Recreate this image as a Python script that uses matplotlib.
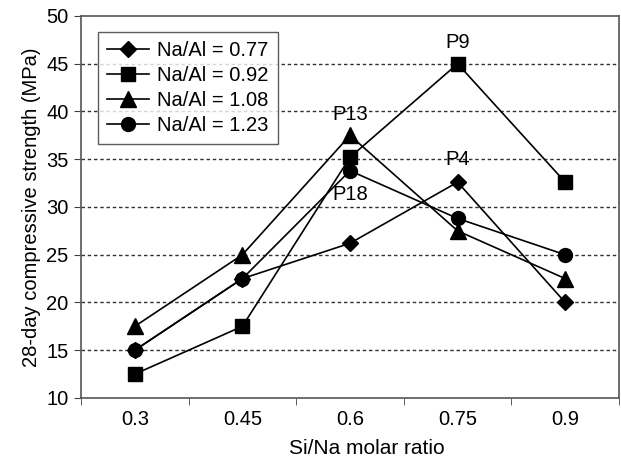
import matplotlib
matplotlib.use("Agg")
import matplotlib.pyplot as plt
import numpy as np

plt.rcParams['font.family'] = ['Liberation Sans', 'DejaVu Sans']

categories = ["0.3", "0.45", "0.6", "0.75", "0.9"]
na077 = [15.0, 22.5, 26.2, 32.6, 20.0]
na092 = [12.5, 17.5, 35.2, 45.0, 32.6]
na108 = [17.5, 25.0, 37.5, 27.5, 22.5]
na123 = [15.0, 22.5, 33.8, 28.8, 25.0]
labels = ["Na/Al = 0.77", "Na/Al = 0.92", "Na/Al = 1.08", "Na/Al = 1.23"]

fig = plt.figure(figsize=(6.21, 4.61), dpi=100)
ax = fig.add_axes([0.1304, 0.1367, 0.8664, 0.8286])
x = np.arange(len(categories))

ax.plot(x, na077, '-D', color='black', lw=1.2, ms=8, label=labels[0])
ax.plot(x, na092, '-s', color='black', lw=1.2, ms=10, label=labels[1])
ax.plot(x, na108, '-^', color='black', lw=1.2, ms=11.5, label=labels[2])
ax.plot(x, na123, '-o', color='black', lw=1.2, ms=10, label=labels[3])

afs = 14.5
ax.text(x[3], na092[3] + 1.2, "P9", ha='center', va='bottom', fontsize=afs)
ax.text(x[2], na108[2] + 1.2, "P13", ha='center', va='bottom', fontsize=afs)
ax.text(x[3], na077[3] + 1.4, "P4", ha='center', va='bottom', fontsize=afs)
ax.text(x[2], na123[2] - 1.5, "P18", ha='center', va='top', fontsize=afs)

ax.set_xlim(-0.5, 4.5)
ax.set_ylim(10, 50)
ax.set_yticks(np.arange(10, 51, 5))
ax.set_xticks(x)
ax.set_xticklabels(categories)
ax.set_xticks(np.arange(-0.5, 4.6, 1.0), minor=True)
ax.tick_params(axis='x', which='major', length=0, pad=9, labelsize=14.5)
ax.tick_params(axis='x', which='minor', length=5, direction='out', color='#444444')
ax.tick_params(axis='y', length=5, pad=4, direction='out', labelsize=14.5, color='#444444')

for yv in range(15, 50, 5):
    ax.axhline(yv, color='#333333', lw=1.0, ls=(0, (2.5, 2)), zorder=0)

for s in ax.spines.values():
    s.set_color('#555555')
    s.set_linewidth(1.2)

ax.set_xlabel("Si/Na molar ratio", fontsize=15, va='top')
ax.xaxis.set_label_coords(0.5316, -0.108)
ax.set_ylabel("28-day compressive strength (MPa)", fontsize=14.5, labelpad=4)

leg = ax.legend(loc='upper left', bbox_to_anchor=(0.0316, 0.958), borderaxespad=0,
                fontsize=14.5, frameon=True, fancybox=False, edgecolor='#333333',
                handlelength=2.1, borderpad=0.45, labelspacing=0.3, handletextpad=0.4)
leg.get_frame().set_linewidth(1.0)

fig.savefig("out.png", dpi=100)
